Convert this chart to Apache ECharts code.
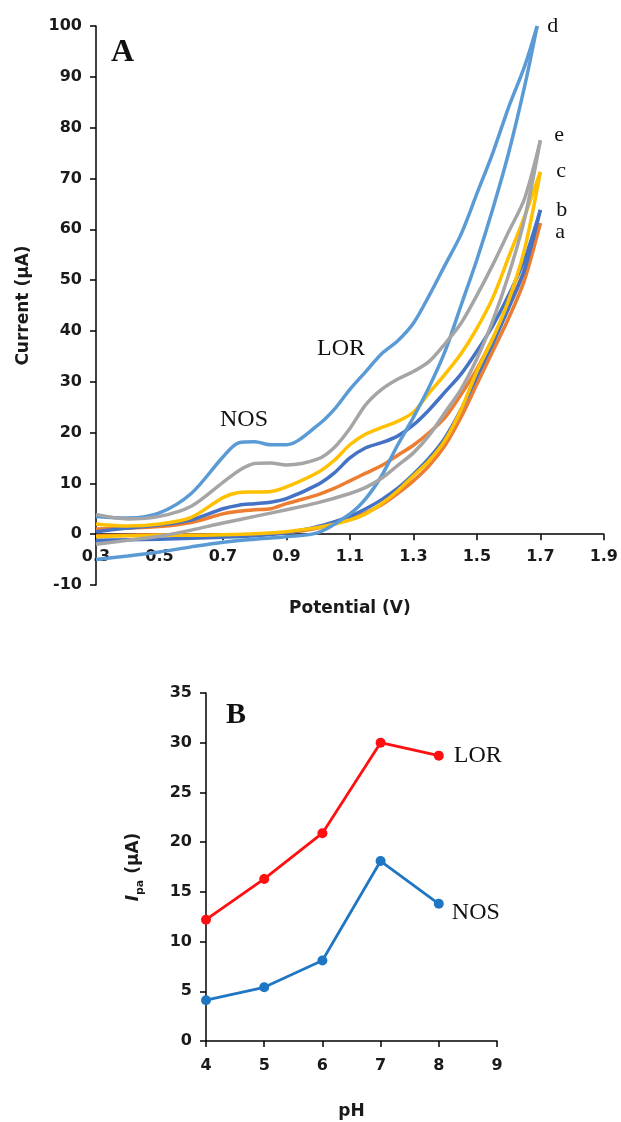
<!DOCTYPE html>
<html><head><meta charset="utf-8">
<script src="https://cdn.jsdelivr.net/npm/echarts@6/dist/echarts.min.js"></script>
<style>html,body{margin:0;padding:0;background:#fff}#c{width:621px;height:1122px}</style>
</head><body><div id="c"></div>
<script>
// ---------- Panel A: cyclic voltammograms ----------
const potentialFwd  = [0.3,0.4,0.5,0.6,0.7,0.75,0.8,0.85,0.9,1.0,1.05,1.1,1.15,1.2,1.25,1.3,1.35,1.4,1.45,1.5,1.55,1.6,1.65,1.7];
const potentialFwdD = [0.3,0.4,0.5,0.6,0.7,0.75,0.8,0.85,0.9,1.0,1.05,1.1,1.15,1.2,1.25,1.3,1.35,1.4,1.45,1.5,1.55,1.6,1.65,1.69];
const potentialRev  = [1.7,1.65,1.6,1.55,1.5,1.45,1.4,1.35,1.3,1.25,1.2,1.15,1.1,1.0,0.9,0.8,0.7,0.6,0.5,0.4,0.3];
const potentialRevD = [1.69,1.65,1.6,1.55,1.5,1.45,1.4,1.35,1.3,1.25,1.2,1.15,1.1,1.0,0.9,0.8,0.7,0.6,0.5,0.4,0.3];

const aFwd = [1.0,1.2,1.5,2.3,4.0,4.5,4.8,5.0,6.0,7.8,9.0,10.5,12.0,13.5,15.5,17.5,20.0,23.0,27.5,32.5,38.5,45.0,52.0,61.2];
const bFwd = [0.5,1.2,1.8,2.8,5.0,5.7,6.0,6.3,7.0,9.8,12.0,15.0,17.0,18.0,19.3,21.5,24.5,28.0,31.5,36.0,41.0,47.0,54.0,63.8];
const cFwd = [2.0,1.6,2.0,3.3,7.2,8.2,8.3,8.4,9.3,12.2,14.5,17.6,19.7,21.0,22.2,24.0,27.8,31.5,35.5,40.5,46.5,54.5,62.5,71.3];
const dFwd = [3.5,3.2,4.2,8.0,15.2,18.0,18.2,17.6,17.6,21.5,24.5,28.5,32.0,35.5,38.0,41.5,47.0,53.0,59.0,67.0,75.0,84.0,92.0,100];
const eFwd = [3.9,3.0,3.5,5.5,10.2,12.5,13.9,14.0,13.6,14.8,17.0,20.8,25.5,28.5,30.5,32.0,34.0,37.5,41.5,47.0,53.0,59.5,66.0,77.5];

const aRev = [61.2,50,42.5,36,29.5,23,17.5,13.5,10.5,8,5.8,4.2,3,1.2,0.3,-0.1,-0.2,-0.2,-0.1,-0.2,-0.3];
const bRev = [63.8,52,44.5,37.5,31,24.5,19,15,11.8,9,6.8,5,3.5,1.5,0.3,-0.3,-0.6,-0.8,-1.0,-1.1,-1.2];
const cRev = [71.3,56,46,38.5,32,24.5,18.5,14.5,11.5,8.5,6,4,2.8,1.3,0.5,0.1,-0.1,-0.2,-0.2,-0.3,-0.5];
const dRev = [100,88,75,64,54,45,36,29,23,17.5,11.5,7,4,0.3,-0.5,-1,-1.6,-2.5,-3.5,-4.3,-5];
const eRev = [77.5,62,51,42,34.5,28.5,24,19.5,16,13.5,11,9.2,8,6.2,4.8,3.5,2.2,0.8,-0.4,-1.2,-2];

const curveNames = ['a','b','c','d','e'];
const curveColors = ['#ED7D31','#4472C4','#FFC000','#5B9BD5','#A5A5A5'];
const potentialTicks = [0.3,0.5,0.7,0.9,1.1,1.3,1.5,1.7,1.9];
const currentMin = -10, currentMax = 100;

// ---------- Panel B: peak current vs pH ----------
const pH = [4,5,6,7,8];
const lorIpa = [12.2,16.3,20.9,30.0,28.7];
const nosIpa = [4.1,5.4,8.1,18.1,13.8];

const zip = (xs, ys) => ys.map((y, i) => [xs[i], y]);
const fwd = [aFwd,bFwd,cFwd,dFwd,eFwd];
const rev = [aRev,bRev,cRev,dRev,eRev];
const labelOffsets = [[5,9],[6,0],[6,-1],[0,0],[4,-5]];

const tickFont = {fontFamily:'DejaVu Sans', fontWeight:'bold', color:'#1a1a1a'};
const serif = 'Liberation Serif';
const gridA = {left:96, top:26, width:509, height:559};
const gridB = {left:206, top:693, width:291, height:348};
// shift the x axis (line, ticks, labels, name) up to the zero current level
const zeroShift = -gridA.height * (0 - currentMin) / (currentMax - currentMin);

const series = [];
curveNames.forEach((n, i) => {
  const isD = n === 'd';
  series.push({
    type:'line', xAxisIndex:0, yAxisIndex:0, name:n+'-fwd',
    data: zip(isD ? potentialFwdD : potentialFwd, fwd[i]),
    smooth:0.3, showSymbol:false, silent:true,
    lineStyle:{width:3.5, color:curveColors[i]},
    endLabel:{show:true, formatter:n, distance:10, offset:labelOffsets[i],
      fontFamily:serif, fontSize:22, color:'#111'}
  });
  series.push({
    type:'line', xAxisIndex:0, yAxisIndex:0, name:n+'-rev',
    data: zip(isD ? potentialRevD : potentialRev, rev[i]),
    smooth:0.3, showSymbol:false, silent:true,
    lineStyle:{width:3.5, color:curveColors[i]}
  });
});
series.push({
  type:'line', xAxisIndex:1, yAxisIndex:1, name:'LOR', data: zip(pH, lorIpa),
  symbol:'circle', symbolSize:10, itemStyle:{color:'#FF1010'}, lineStyle:{width:2.8, color:'#FF1010'},
  endLabel:{show:true, formatter:'LOR', distance:15, fontFamily:serif, fontSize:24, color:'#111'}
});
series.push({
  type:'line', xAxisIndex:1, yAxisIndex:1, name:'NOS', data: zip(pH, nosIpa),
  symbol:'circle', symbolSize:10, itemStyle:{color:'#1F77C4'}, lineStyle:{width:2.8, color:'#1F77C4'},
  endLabel:{show:true, formatter:'NOS', distance:13, offset:[0,9], fontFamily:serif, fontSize:24, color:'#111'}
});

const axisLine = {show:true, onZero:false, lineStyle:{color:'#000', width:1.5}};
const axisTick = {show:true, length:6, lineStyle:{color:'#000', width:1.5}};

const option = {
  animation:false,
  backgroundColor:'#fff',
  grid:[gridA, gridB],
  xAxis:[
    {type:'value', gridIndex:0, min:0.3, max:1.9, offset:zeroShift,
     axisLine, axisTick:Object.assign({customValues:potentialTicks}, axisTick),
     splitLine:{show:false},
     axisLabel:Object.assign({customValues:potentialTicks, fontSize:16, margin:15,
       formatter:v => v.toFixed(1)}, tickFont),
     name:'Potential (V)', nameLocation:'middle', nameGap:66,
     nameTextStyle:Object.assign({fontSize:17}, tickFont)},
    {type:'value', gridIndex:1, min:4, max:9, interval:1,
     axisLine, axisTick, splitLine:{show:false},
     axisLabel:Object.assign({fontSize:16, margin:17}, tickFont),
     name:'pH', nameLocation:'middle', nameGap:62,
     nameTextStyle:Object.assign({fontSize:17}, tickFont)}
  ],
  yAxis:[
    {type:'value', gridIndex:0, min:currentMin, max:currentMax, interval:10,
     axisLine, axisTick, splitLine:{show:false},
     axisLabel:Object.assign({fontSize:16, margin:14}, tickFont),
     name:'Current (µA)', nameLocation:'middle', nameGap:64,
     nameTextStyle:Object.assign({fontSize:17}, tickFont)},
    {type:'value', gridIndex:1, min:0, max:35, interval:5,
     axisLine, axisTick, splitLine:{show:false},
     axisLabel:Object.assign({fontSize:16, margin:14}, tickFont),
     name:'{i|I}{s|pa}{n| (µA)}', nameLocation:'middle', nameGap:60,
     nameTextStyle:{rich:{
       i:{fontFamily:'DejaVu Sans', fontWeight:'bold', fontStyle:'italic', fontSize:17, color:'#1a1a1a', lineHeight:24, verticalAlign:'middle'},
       s:{fontFamily:'DejaVu Sans', fontWeight:'bold', fontSize:11, color:'#1a1a1a', lineHeight:24, verticalAlign:'bottom'},
       n:{fontFamily:'DejaVu Sans', fontWeight:'bold', fontSize:17, color:'#1a1a1a', lineHeight:24, verticalAlign:'middle'}
     }}}
  ],
  graphic:[
    {type:'text', left:111, top:37, style:{text:'A', fontFamily:serif, fontWeight:'bold', fontSize:32, fill:'#111'}},
    {type:'text', left:226, top:700, style:{text:'B', fontFamily:serif, fontWeight:'bold', fontSize:30, fill:'#111'}},
    {type:'text', left:220, top:408, style:{text:'NOS', fontFamily:serif, fontSize:24, fill:'#111'}},
    {type:'text', left:317, top:337, style:{text:'LOR', fontFamily:serif, fontSize:24, fill:'#111'}}
  ],
  series
};
const chart = echarts.init(document.getElementById('c'));
chart.setOption(option);
</script>
</body></html>
